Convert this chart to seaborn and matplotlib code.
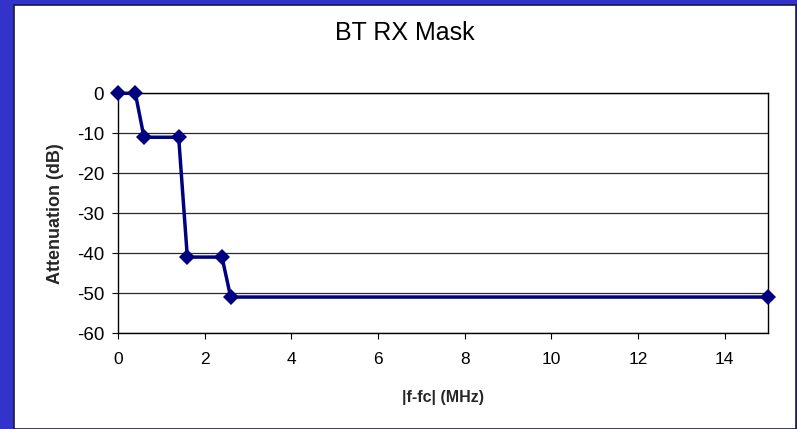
import matplotlib
matplotlib.use("Agg")
import matplotlib.pyplot as plt
from matplotlib.patches import Rectangle
import seaborn as sns
import pandas as pd

# BT receiver mask: frequency offset vs attenuation
freq_offset_mhz = [0, 0.4, 0.6, 1.4, 1.6, 2.4, 2.6, 15]
attenuation_db = [0, 0, -11, -11, -41, -41, -51, -51]
x_ticks = [0, 2, 4, 6, 8, 10, 12, 14]
y_ticks = [0, -10, -20, -30, -40, -50, -60]

sns.set_theme(style="white")
plt.rcParams["font.family"] = ["Liberation Sans", "DejaVu Sans"]
plt.rcParams["axes.unicode_minus"] = False

W, H = 797, 429
fig = plt.figure(figsize=(W / 100, H / 100), dpi=100)
fig.patch.set_facecolor("#3333CC")

# white chart panel with a thin dark frame
panel = Rectangle((13.5 / W, 0), (795.5 - 13.5) / W, (H - 4.5) / H,
                  transform=fig.transFigure, facecolor="white",
                  edgecolor="#1a1a40", linewidth=1.2, zorder=-10)
fig.patches.append(panel)

left, right, top, bottom = 118, 768, 93.3, 333
ax = fig.add_axes([left / W, 1 - bottom / H, (right - left) / W, (bottom - top) / H])
ax.set_zorder(5)
ax.set_facecolor("white")

df = pd.DataFrame({"f": freq_offset_mhz, "att": attenuation_db})
sns.lineplot(data=df, x="f", y="att", ax=ax, sort=False, color="#000080",
             linewidth=2.5, marker="D", markersize=8.5, markeredgewidth=0,
             clip_on=False, zorder=5)

ax.set_xlim(0, 15)
ax.set_ylim(-60, 0)
ax.set_xticks(x_ticks)
ax.set_yticks(y_ticks)
ax.yaxis.grid(True, color="#2a2a2a", linewidth=0.9)
ax.xaxis.grid(False)
for s in ax.spines.values():
    s.set_visible(True)
    s.set_color("black")
    s.set_linewidth(1.0)

ax.tick_params(axis="both", which="major", direction="out", length=4,
               width=0.8, color="black", labelcolor="black",
               bottom=True, left=True)
ax.tick_params(axis="x", pad=10, labelsize=12.5)
ax.tick_params(axis="y", pad=6, labelsize=13.5)

ax.set_xlabel("|f-fc| (MHz)", fontsize=11.5, fontweight="bold", labelpad=16)
ax.set_ylabel("Attenuation (dB)", fontsize=13, fontweight="bold", labelpad=9)
fig.text(405 / W, 1 - 33 / H, "BT RX Mask", ha="center",
         va="center", fontsize=18, color="black", zorder=6)

fig.savefig("out.png", dpi=100, facecolor=fig.get_facecolor())
